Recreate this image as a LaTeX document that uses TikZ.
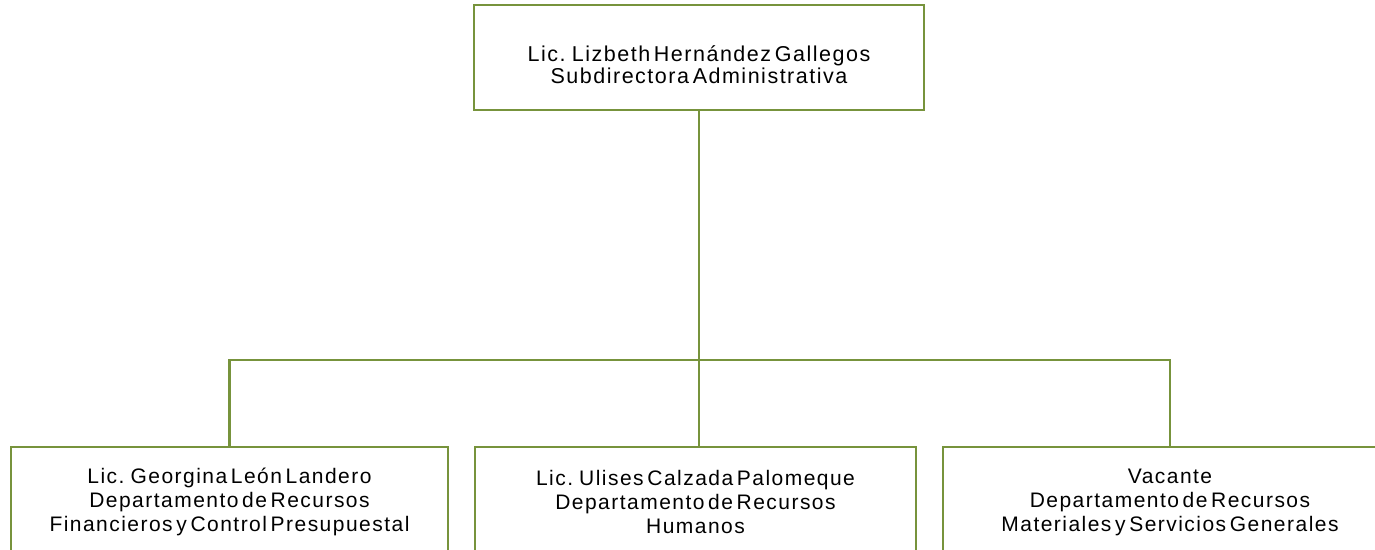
\documentclass[tikz,border=0pt]{standalone}
\usepackage{fontspec}
\setmainfont{Liberation Sans}[LetterSpace=7,WordSpace=0.5]
\definecolor{olivegreen}{RGB}{119,147,60}
\newcommand{\lowline}[1]{\raisebox{-7pt}[\height][\depth]{#1}}

\begin{document}
\begin{tikzpicture}[x=1pt,y=1pt,
  box/.style={draw=olivegreen, line width=2.5pt, align=center, inner sep=0pt},
  topbox/.style={box, minimum width=450, minimum height=105, font=\fontsize{21.5}{22}\selectfont},
  deptbox/.style={box, minimum height=110, font=\fontsize{21}{24}\selectfont},
  link/.style={draw=olivegreen, line width=2.5pt}]
\clip (0,0) rectangle (1375,-549);
\fill[white] (0,0) rectangle (1375,-549);

\node[topbox] (subdir) at (699,-57.5) {\lowline{Lic. Lizbeth Hernández Gallegos}\\\lowline{Subdirectora Administrativa}};

\node[deptbox, minimum width=437] (finan) at (229.5,-502) {Lic. Georgina León Landero\\Departamento de Recursos\\Financieros y Control Presupuestal};
\node[deptbox, minimum width=441] (human) at (695.5,-502) {Lic. Ulises Calzada Palomeque\\Departamento de Recursos\\Humanos};
\node[deptbox, minimum width=454] (mater) at (1170,-502) {Vacante\\Departamento de Recursos\\Materiales y Servicios Generales};

\coordinate (bus) at (699,-360);
\draw[link] (subdir.south) -- (bus);
\draw[link] (finan.north) |- (bus) -| (mater.north);
\draw[link] (bus) -- (bus |- human.north);
\end{tikzpicture}
\end{document}
